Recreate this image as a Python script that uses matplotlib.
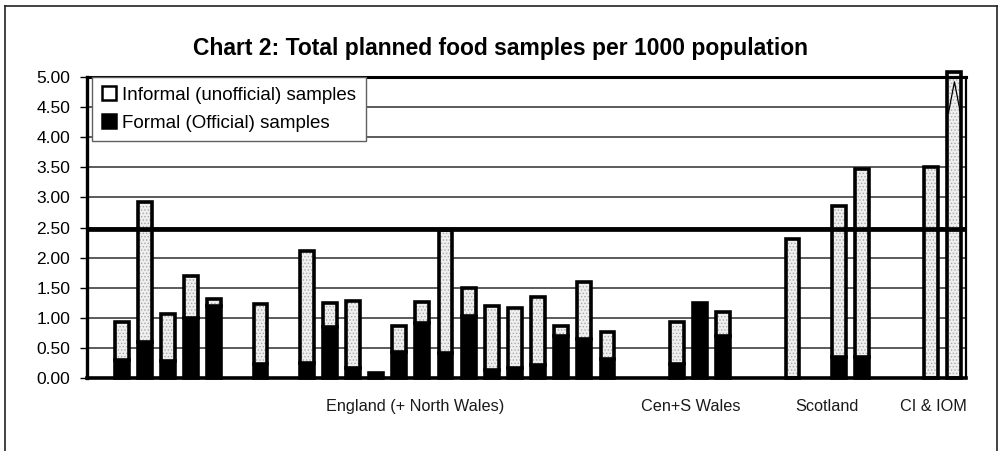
import matplotlib
matplotlib.use("Agg")
import matplotlib.pyplot as plt
from matplotlib.patches import Patch
from matplotlib.lines import Line2D
import numpy as np

plt.rcParams['font.family'] = ['Liberation Sans', 'DejaVu Sans']
plt.rcParams['hatch.linewidth'] = 0.6

# Samples per 1000 population, one slot per authority; empty slots separate regions
totals = [0.00, 0.93, 2.93, 1.06, 1.70, 1.31, 0.00, 1.23, 0.00, 2.11,
          1.25, 1.28, 0.08, 0.87, 1.26, 2.46, 1.50, 1.20, 1.16, 1.35,
          0.87, 1.59, 0.76, 0.00, 0.00, 0.93, 1.25, 1.09, 0.00, 0.00,
          2.31, 0.00, 2.85, 3.47, 0.00, 0.00, 3.50, 5.08]
formal = [0.00, 0.30, 0.60, 0.29, 1.00, 1.20, 0.00, 0.24, 0.00, 0.25,
          0.85, 0.16, 0.08, 0.44, 0.91, 0.42, 1.03, 0.14, 0.16, 0.22,
          0.70, 0.65, 0.31, 0.00, 0.00, 0.23, 1.25, 0.69, 0.00, 0.00,
          0.00, 0.00, 0.35, 0.35, 0.00, 0.00, 0.00, 0.00]
regions = ['England (+ North Wales)', 'Cen+S Wales', 'Scotland', 'CI & IOM']
target = 2.48
y_ticks = [0.0, 0.5, 1.0, 1.5, 2.0, 2.5, 3.0, 3.5, 4.0, 4.5, 5.0]

informal = [t - f for t, f in zip(totals, formal)]
x = np.arange(len(totals))

W, H = 1001, 451
fig = plt.figure(figsize=(W / 100, H / 100), dpi=100)
ax = fig.add_axes([87 / W, 1 - 378 / H, (966 - 87) / W, (378 - 77) / H])

ax.set_xlim(-0.5, len(totals) - 0.5)
ax.set_ylim(0, 5)

# gridlines
for yv in y_ticks[1:-1]:
    ax.axhline(yv, color='#404040', lw=1.2, zorder=1)

bw = 0.6
edge_lw = 2.6
light = '#efefef'

has_formal = [f > 0 for f in formal]
has_inf = [v > 0.001 for v in informal]

# formal (black) segments
fx = [xi for xi, h in zip(x, has_formal) if h]
fv = [f for f, h in zip(formal, has_formal) if h]
ax.bar(fx, fv, width=bw, color='black', edgecolor='black', linewidth=edge_lw,
       zorder=3, clip_on=False)

# informal (stippled) segments stacked on the formal ones
ix = [xi for xi, h in zip(x, has_inf) if h]
iv = [v for v, h in zip(informal, has_inf) if h]
ib = [f for f, h in zip(formal, has_inf) if h]
ax.bar(ix, iv, bottom=ib, width=bw, color=light, edgecolor='#a8a8a8',
       hatch='.....', linewidth=0, zorder=3, clip_on=False)
ax.bar(ix, iv, bottom=ib, width=bw, fill=False, edgecolor='black',
       linewidth=edge_lw, zorder=4, clip_on=False)

# break mark on the off-scale bar
last = len(totals) - 1
ax.plot([last - 0.26, last, last + 0.26], [4.40, 4.92, 4.40],
        color='black', lw=0.9, zorder=5, clip_on=False)

# reference level
ax.axhline(target, color='black', lw=3.4, zorder=6)

ax.set_yticks(y_ticks)
ax.set_yticklabels([f'{v:.2f}' for v in y_ticks], fontsize=12.5)
ax.tick_params(axis='y', length=5, width=1.0, pad=7, direction='out')
ax.set_xticks([])

for side, lw in (('left', 2.4), ('bottom', 2.6), ('top', 2.2), ('right', 1.6)):
    ax.spines[side].set_linewidth(lw)
    ax.spines[side].set_color('black')
    ax.spines[side].set_zorder(7)

# region labels under the axis
label_x = [13.7, 25.6, 31.5, 36.1]
for name, lx in zip(regions, label_x):
    ax.text(lx, -0.07, name, transform=ax.get_xaxis_transform(),
            ha='center', va='top', fontsize=11.7, color='#1a1a1a')

handles = [Patch(facecolor='white', edgecolor='black', linewidth=1.8,
                 label='Informal (unofficial) samples'),
           Patch(facecolor='black', edgecolor='black', linewidth=1.8,
                 label='Formal (Official) samples')]
leg = ax.legend(handles=handles, loc='upper left', bbox_to_anchor=(0.006, 1.0),
                fontsize=13.5, frameon=True, fancybox=False, framealpha=1,
                edgecolor='#606060', handlelength=0.75, handleheight=0.75,
                handletextpad=0.35, labelspacing=0.55, borderpad=0.5,
                borderaxespad=0)
leg.get_frame().set_linewidth(1.0)
leg.set_zorder(8)

fig.text(0.5, 1 - 49 / H, 'Chart 2: Total planned food samples per 1000 population',
         ha='center', va='center', fontsize=16.5, fontweight='bold')

# outer chart border
for xs, ys in (([5 / W, 5 / W], [0, 1 - 6 / H]),
               ([5 / W, 997 / W], [1 - 6 / H, 1 - 6 / H]),
               ([997 / W, 997 / W], [1 - 6 / H, 0])):
    fig.add_artist(Line2D(xs, ys, color='#222222', lw=1.2))

fig.savefig('out.png', dpi=100)
